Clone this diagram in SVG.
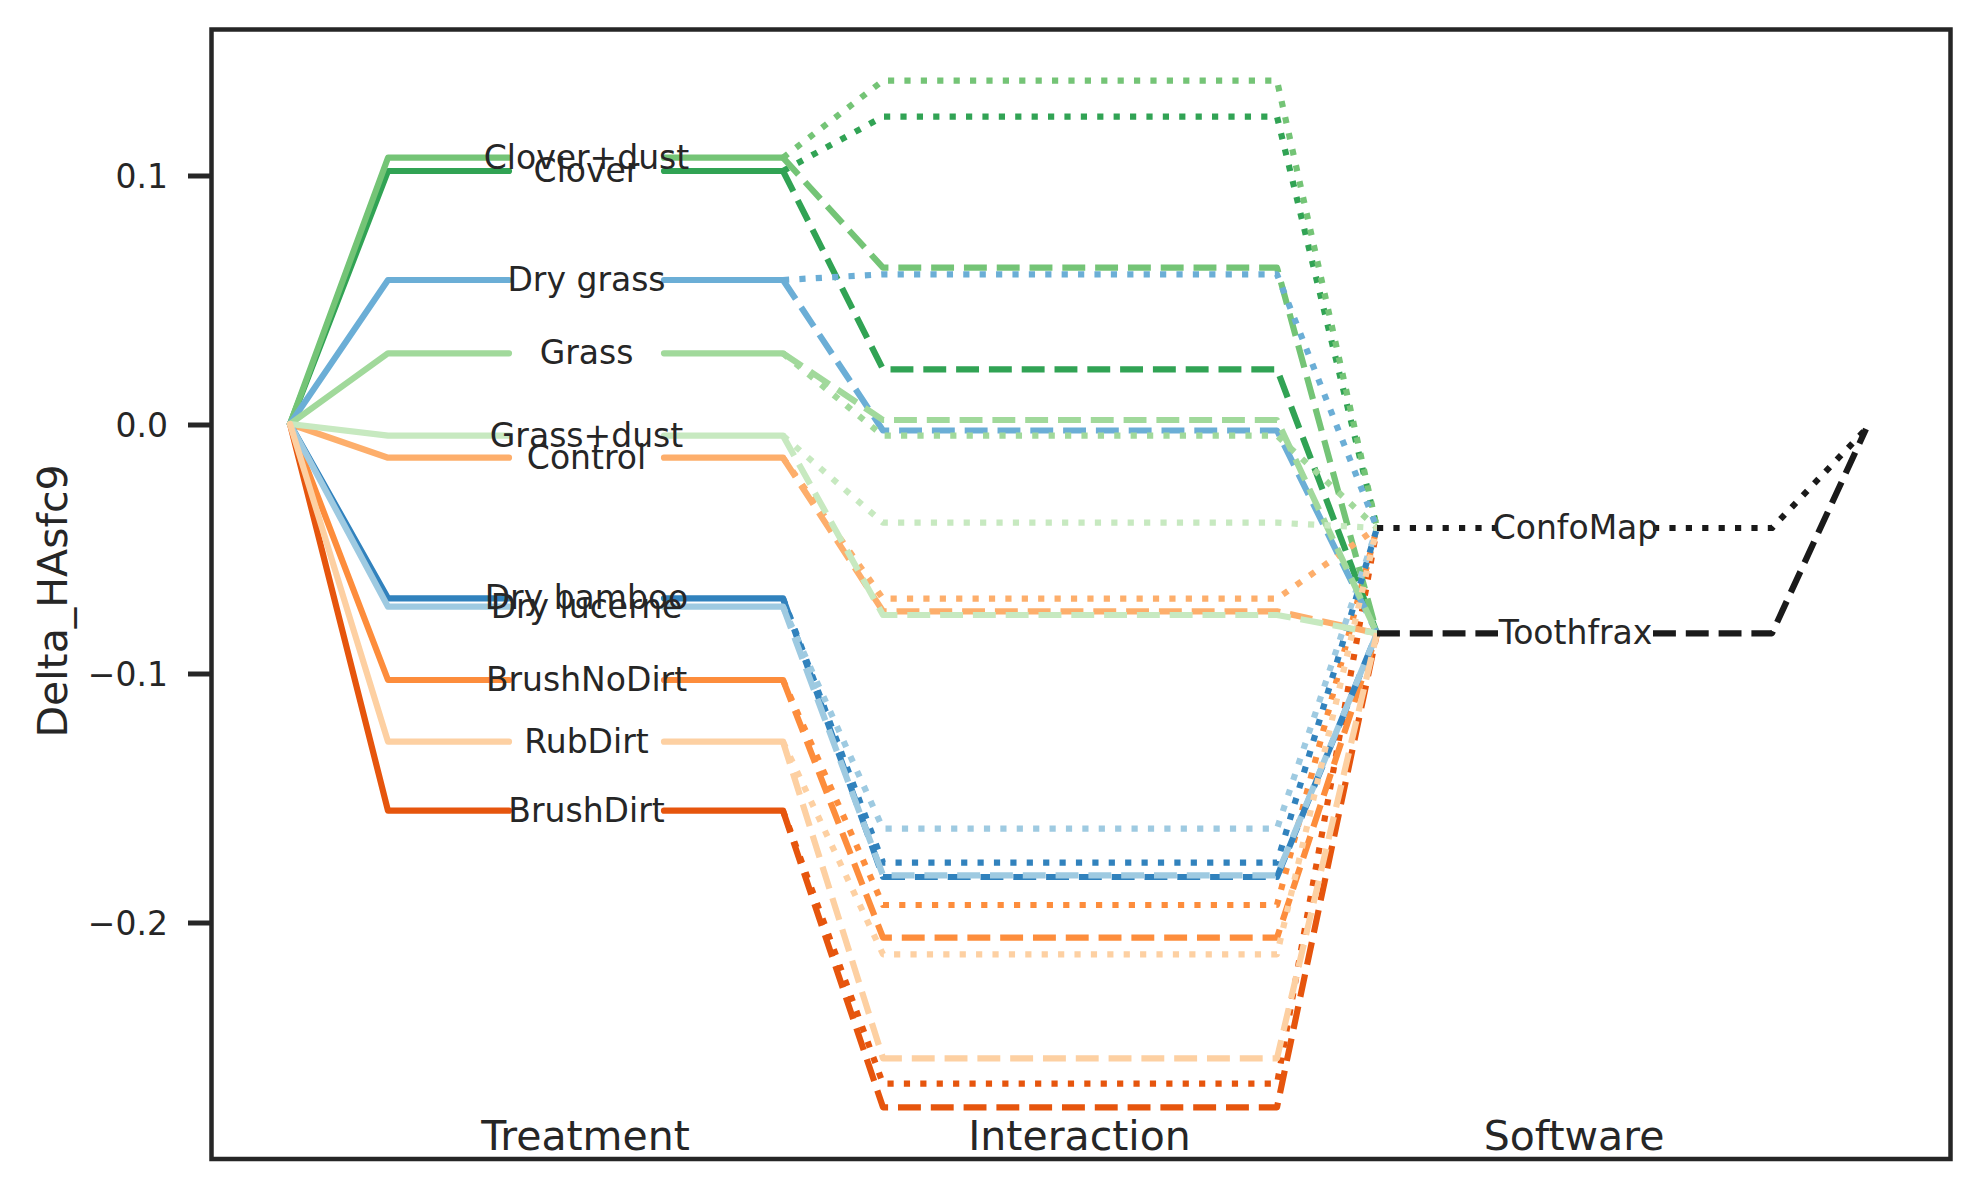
<svg xmlns="http://www.w3.org/2000/svg" width="1979" height="1189" viewBox="0 0 1979 1189">
<style>
  text { font-family: "DejaVu Sans", "Liberation Sans", sans-serif; fill: #262626; }
  .lbl { font-size: 33px; text-anchor: middle; }
  .tick { font-size: 33px; text-anchor: end; }
  .cat { font-size: 41px; text-anchor: middle; }
  .ln { fill: none; stroke-width: 6.2; stroke-linejoin: round; }
  .solid { stroke-linecap: round; }
  .dot { stroke-dasharray: 6.2 10.2; stroke-linecap: butt; }
  .dash { stroke-dasharray: 22.9 9.9; stroke-linecap: butt; }
  .sw { stroke: #1a1a1a; }
</style>
<rect width="1979" height="1189" fill="#ffffff"/>

<g id="axes">
  <rect x="211.5" y="29.5" width="1739" height="1129.5" fill="none" stroke="#262626" stroke-width="4.5"/>
  <g stroke="#262626" stroke-width="5">
    <line x1="188" y1="176" x2="211.5" y2="176"/>
    <line x1="188" y1="425" x2="211.5" y2="425"/>
    <line x1="188" y1="674" x2="211.5" y2="674"/>
    <line x1="188" y1="923" x2="211.5" y2="923"/>
  </g>
  <text class="tick" x="168" y="188">0.1</text>
  <text class="tick" x="168" y="437">0.0</text>
  <text class="tick" x="168" y="686">−0.1</text>
  <text class="tick" x="168" y="935">−0.2</text>
  <text class="cat" transform="translate(67,601) rotate(-90)">Delta_HAsfc9</text>
  <text class="cat" x="585.5" y="1150">Treatment</text>
  <text class="cat" x="1079.5" y="1150">Interaction</text>
  <text class="cat" x="1574" y="1150">Software</text>
</g>

<g id="connectors">
  <!-- BrushDirt -->
  <g id="conn-brushdirt" stroke="#e6550d">
    <path class="ln solid" d="M290,424 L388,810.7 L509,810.7 M664,810.7 L783,810.7"/>
    <path class="ln dot" d="M783,810.7 L883,1083.7 L1277,1083.7 L1377,528"/>
    <path class="ln dash" d="M783,810.7 L883,1107.3 L1277,1107.3 L1377,633.3"/>
  </g>
  <!-- BrushNoDirt -->
  <g id="conn-brushnodirt" stroke="#fd8d3c">
    <path class="ln solid" d="M290,424 L388,680 L509,680 M664,680 L783,680"/>
    <path class="ln dot" d="M783,680 L883,905 L1277,905 L1377,528"/>
    <path class="ln dash" d="M783,680 L883,937.7 L1277,937.7 L1377,633.3"/>
  </g>
  <!-- Clover -->
  <g id="conn-clover" stroke="#31a354">
    <path class="ln solid" d="M290,424 L388,171 L509,171 M664,171 L783,171"/>
    <path class="ln dot" d="M783,171 L883,116.7 L1277,116.7 L1377,528"/>
    <path class="ln dash" d="M783,171 L883,369.3 L1277,369.3 L1377,633.3"/>
  </g>
  <!-- Clover+dust -->
  <g id="conn-cloverdust" stroke="#74c476">
    <path class="ln solid" d="M290,424 L388,157.7 L509,157.7 M664,157.7 L783,157.7"/>
    <path class="ln dot" d="M783,157.7 L883,80.7 L1277,80.7 L1377,528"/>
    <path class="ln dash" d="M783,157.7 L883,267.7 L1277,267.7 L1377,633.3"/>
  </g>
  <!-- Control -->
  <g id="conn-control" stroke="#fdae6b">
    <path class="ln solid" d="M290,424 L388,457.7 L509,457.7 M664,457.7 L783,457.7"/>
    <path class="ln dot" d="M783,457.7 L883,598.7 L1277,598.7 L1377,528"/>
    <path class="ln dash" d="M783,457.7 L883,611.3 L1277,611.3 L1377,633.3"/>
  </g>
  <!-- Dry bamboo -->
  <g id="conn-drybamboo" stroke="#3182bd">
    <path class="ln solid" d="M290,424 L388,598.3 L509,598.3 M664,598.3 L783,598.3"/>
    <path class="ln dot" d="M783,598.3 L883,862.7 L1277,862.7 L1377,528"/>
    <path class="ln dash" d="M783,598.3 L883,877 L1277,877 L1377,633.3"/>
  </g>
  <!-- Dry grass -->
  <g id="conn-drygrass" stroke="#6baed6">
    <path class="ln solid" d="M290,424 L388,280 L509,280 M664,280 L783,280"/>
    <path class="ln dot" d="M783,280 L883,274.3 L1277,274.3 L1377,528"/>
    <path class="ln dash" d="M783,280 L883,430.5 L1277,430.5 L1377,633.3"/>
  </g>
  <!-- Dry lucerne -->
  <g id="conn-drylucerne" stroke="#9ecae1">
    <path class="ln solid" d="M290,424 L388,606.7 L509,606.7 M664,606.7 L783,606.7"/>
    <path class="ln dot" d="M783,606.7 L883,828.7 L1277,828.7 L1377,528"/>
    <path class="ln dash" d="M783,606.7 L883,875.3 L1277,875.3 L1377,633.3"/>
  </g>
  <!-- Grass -->
  <g id="conn-grass" stroke="#a1d99b">
    <path class="ln solid" d="M290,424 L388,353.3 L509,353.3 M664,353.3 L783,353.3"/>
    <path class="ln dot" d="M783,353.3 L883,435.7 L1277,435.7 L1377,528"/>
    <path class="ln dash" d="M783,353.3 L883,420 L1277,420 L1377,633.3"/>
  </g>
  <!-- Grass+dust -->
  <g id="conn-grassdust" stroke="#c7e9c0">
    <path class="ln solid" d="M290,424 L388,435.7 L509,435.7 M664,435.7 L783,435.7"/>
    <path class="ln dot" d="M783,435.7 L883,522.7 L1277,522.7 L1377,528"/>
    <path class="ln dash" d="M783,435.7 L883,615 L1277,615 L1377,633.3"/>
  </g>
  <!-- RubDirt -->
  <g id="conn-rubdirt" stroke="#fdd0a2">
    <path class="ln solid" d="M290,424 L388,741.7 L509,741.7 M664,741.7 L783,741.7"/>
    <path class="ln dot" d="M783,741.7 L883,954.3 L1277,954.3 L1377,528"/>
    <path class="ln dash" d="M783,741.7 L883,1058.3 L1277,1058.3 L1377,633.3"/>
  </g>
  <!-- Software -->
  <g id="conn-software">
    <path class="ln dot sw" d="M1377,528 L1498,528 M1653,528 L1772,528 L1866,429"/>
    <path class="ln dash sw" d="M1377,633.3 L1498,633.3 M1653,633.3 L1772,633.3 L1866,429"/>
  </g>
</g>

<g id="node-brushdirt"><text class="lbl" x="586.5" y="821.7">BrushDirt</text></g>
<g id="node-brushnodirt"><text class="lbl" x="586.5" y="691">BrushNoDirt</text></g>
<g id="node-clover"><text class="lbl" x="586.5" y="182">Clover</text></g>
<g id="node-cloverdust"><text class="lbl" x="586.5" y="168.7">Clover+dust</text></g>
<g id="node-control"><text class="lbl" x="586.5" y="468.7">Control</text></g>
<g id="node-drybamboo"><text class="lbl" x="586.5" y="609.3">Dry bamboo</text></g>
<g id="node-drygrass"><text class="lbl" x="586.5" y="291">Dry grass</text></g>
<g id="node-drylucerne"><text class="lbl" x="586.5" y="617.7">Dry lucerne</text></g>
<g id="node-grass"><text class="lbl" x="586.5" y="364.3">Grass</text></g>
<g id="node-grassdust"><text class="lbl" x="586.5" y="446.7">Grass+dust</text></g>
<g id="node-rubdirt"><text class="lbl" x="586.5" y="752.7">RubDirt</text></g>
<g id="node-confomap"><text class="lbl" x="1575.5" y="539">ConfoMap</text></g>
<g id="node-toothfrax"><text class="lbl" x="1575.5" y="644.3">Toothfrax</text></g>
</svg>
